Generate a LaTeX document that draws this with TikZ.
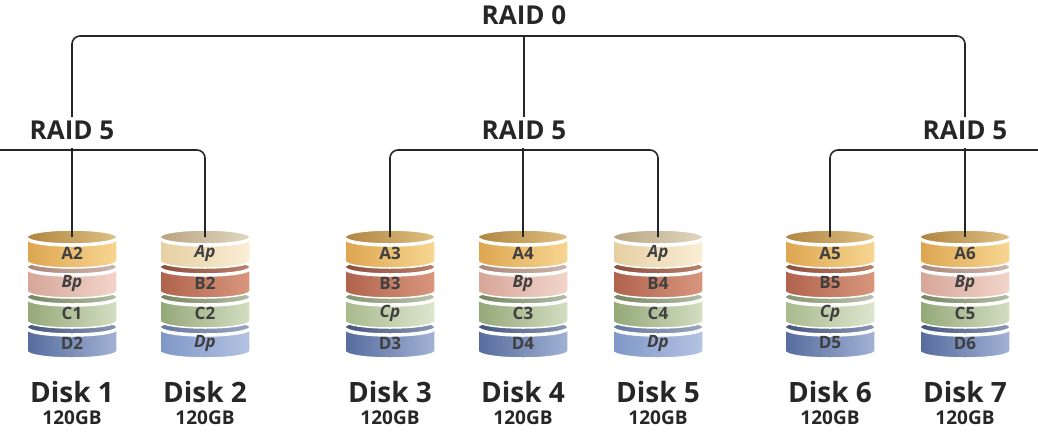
\documentclass[tikz,border=0pt]{standalone}
\usepackage{fontspec}
\setmainfont{Open Sans}
\begin{document}
\begin{tikzpicture}[x=1pt,y=-1pt,
  conn/.style={line width=1.6pt,draw=black!85,rounded corners=8pt},
  raid/.style={font=\fontsize{26}{28}\selectfont\bfseries,text=black!85,inner sep=2pt},
  dname/.style={font=\fontsize{28}{30}\selectfont\bfseries,text=black!85},
  dsize/.style={font=\fontsize{19}{20}\selectfont\bfseries,text=black!85},
  ltxt/.style={font=\fontsize{17}{18}\selectfont\bfseries,text=black!75}]
\useasboundingbox (0,0) rectangle (1038,437);
\definecolor{AnL}{HTML}{DDA650}\definecolor{AnR}{HTML}{F7D692}
\definecolor{ApL}{HTML}{E6CFA2}\definecolor{ApR}{HTML}{FAEED6}
\definecolor{BnL}{HTML}{B0624C}\definecolor{BnR}{HTML}{D9977E}
\definecolor{BpL}{HTML}{D6A698}\definecolor{BpR}{HTML}{F2D5CB}
\definecolor{CnL}{HTML}{94A878}\definecolor{CnR}{HTML}{D3DEC2}
\definecolor{CpL}{HTML}{A7BA8C}\definecolor{CpR}{HTML}{DDE6CF}
\definecolor{DnL}{HTML}{566C9E}\definecolor{DnR}{HTML}{A2B2D4}
\definecolor{DpL}{HTML}{7F97C8}\definecolor{DpR}{HTML}{B4C3E3}
\newcommand\dlayer[4]{% x, top, type, text
  \path[draw=white,line width=1.5pt,left color=#3L!80!black,right color=#3R!85!black]
    (#1,#2) ellipse[x radius=45,y radius=7];
  \path[draw=white,line width=1.5pt,left color=#3L,right color=#3R]
    (#1-45,#2+2) -- (#1-45,#2+24) arc[start angle=180,end angle=0,x radius=45,y radius=7]
    -- (#1+45,#2+2) arc[start angle=0,end angle=180,x radius=45,y radius=7] -- cycle;
  \node[ltxt] at (#1,#2+16) {#4};}
\newcommand\toplid[2]{%
  \path[draw=white,line width=1.5pt,left color=#2L!80!black,right color=#2R!90!black]
    (#1,237) ellipse[x radius=45,y radius=7];}
\newcommand\disk[9]{% x, A type, A text, B..., C..., D...
  \dlayer{#1}{327}{#8}{#9}
  \dlayer{#1}{297}{#6}{#7}
  \dlayer{#1}{267}{#4}{#5}
  \dlayer{#1}{237}{#2}{#3}
  \toplid{#1}{#2}}
\disk{72}{An}{A2}{Bp}{\textit{Bp}}{Cn}{C1}{Dn}{D2}
\disk{205}{Ap}{\textit{Ap}}{Bn}{B2}{Cn}{C2}{Dp}{\textit{Dp}}
\disk{390}{An}{A3}{Bn}{B3}{Cp}{\textit{Cp}}{Dn}{D3}
\disk{523}{An}{A4}{Bp}{\textit{Bp}}{Cn}{C3}{Dn}{D4}
\disk{658}{Ap}{\textit{Ap}}{Bn}{B4}{Cn}{C4}{Dp}{\textit{Dp}}
\disk{830}{An}{A5}{Bn}{B5}{Cp}{\textit{Cp}}{Dn}{D5}
\disk{965}{An}{A6}{Bp}{\textit{Bp}}{Cn}{C5}{Dn}{D6}
\foreach \x/\n in {72/1,205/2,390/3,523/4,658/5,830/6,965/7}{
  \coordinate (d\n) at (\x,237);
  \node[dname] at (\x,392) {Disk \n};
  \node[dsize] at (\x,418) {120GB};}
\coordinate (lw) at (0,150);
\coordinate (rw) at (1038,150);
\draw[conn] (72,117) |- (524,36) -| (965,117);
\draw[conn] (524,36) -- (524,117);
\draw[conn] (lw) -| (d2);
\draw[conn] (72,148) -- (d1);
\draw[conn] (d3) |- (523,150) -| (d5);
\draw[conn] (523,148) -- (d4);
\draw[conn] (d6) |- (965,150) -- (rw);
\draw[conn] (965,148) -- (d7);
\node[raid,fill=white] (r0) at (524,15) {RAID 0};
\node[raid] (r51) at (72,130) {RAID 5};
\node[raid] (r52) at (524,130) {RAID 5};
\node[raid] (r53) at (965,130) {RAID 5};
\end{tikzpicture}
\end{document}
